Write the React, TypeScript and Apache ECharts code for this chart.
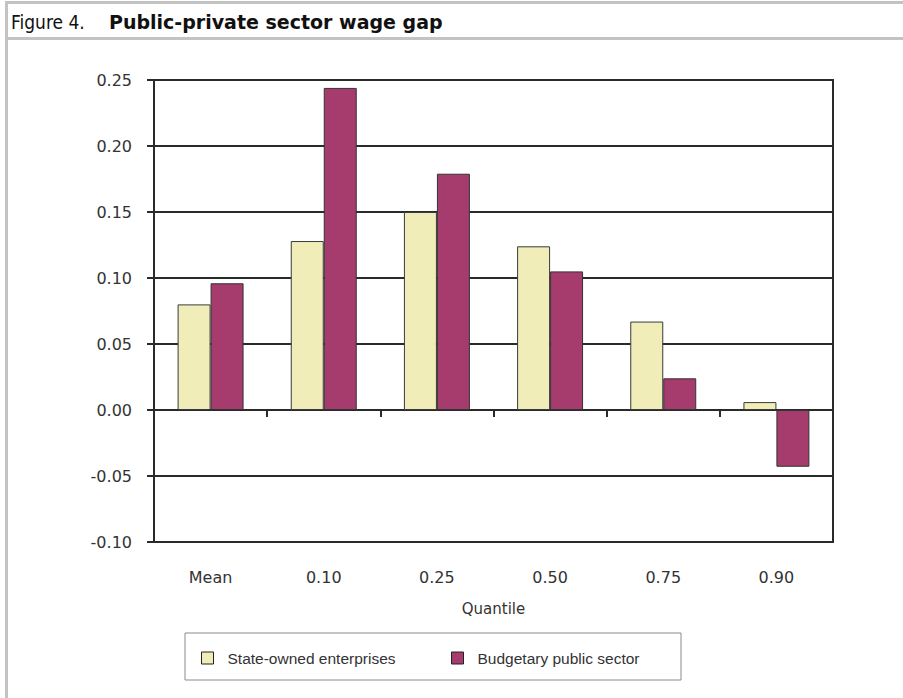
import React, { useEffect, useRef } from "react";
import * as echarts from "echarts";

const categories = ["Mean", "0.10", "0.25", "0.50", "0.75", "0.90"];
const stateOwned = [0.08, 0.128, 0.15, 0.124, 0.067, 0.006];
const budgetary = [0.096, 0.244, 0.179, 0.105, 0.024, -0.043];
const seriesNames = ["State-owned enterprises", "Budgetary public sector"];
const titlePrefix = "Figure 4.";
const titleMain = "Public-private sector wage gap";
const xName = "Quantile";

const SOE_COLOR = "#F0EDB8";
const BUD_COLOR = "#A63B6D";
const FRAME = "#C3C3C3";

export default function App() {
  const ref = useRef<HTMLDivElement>(null);
  useEffect(() => {
    document.body.style.margin = "0";
    const chart = echarts.init(ref.current!, null, { renderer: "svg" });
    const font = "DejaVu Sans";
    const legendText = {
      fontFamily: "Liberation Sans",
      fontSize: 15.5,
      color: "#333",
      padding: [0, 0, 0, 9],
    };
    chart.setOption({
      animation: false,
      backgroundColor: "#ffffff",
      grid: {
        left: 154,
        right: 70,
        top: 80,
        bottom: 156,
        show: true,
        borderColor: "#2a2a2a",
        borderWidth: 2,
        containLabel: false,
      },
      legend: [
        {
          data: [seriesNames[0]],
          left: 201,
          top: 650,
          padding: 0,
          itemWidth: 12,
          itemHeight: 12,
          icon: "rect",
          itemStyle: { borderColor: "#222", borderWidth: 1 },
          textStyle: legendText,
          selectedMode: false,
        },
        {
          data: [seriesNames[1]],
          left: 451,
          top: 650,
          padding: 0,
          itemWidth: 12,
          itemHeight: 12,
          icon: "rect",
          itemStyle: { borderColor: "#222", borderWidth: 1 },
          textStyle: legendText,
          selectedMode: false,
        },
      ],
      xAxis: [
        {
          type: "category",
          data: categories,
          position: "bottom",
          axisLine: { show: false, onZero: false },
          axisTick: { show: false },
          axisLabel: {
            margin: 27,
            fontFamily: font,
            fontSize: 16,
            color: "#333",
          },
          name: xName,
          nameLocation: "middle",
          nameGap: 59,
          nameTextStyle: { fontFamily: font, fontSize: 15, color: "#333" },
        },
        {
          type: "category",
          data: categories,
          position: "bottom",
          axisLine: {
            show: true,
            onZero: true,
            lineStyle: { color: "#2a2a2a", width: 2 },
          },
          axisTick: {
            show: true,
            length: 7,
            interval: 0,
            alignWithLabel: false,
            lineStyle: { color: "#2a2a2a", width: 2 },
          },
          axisLabel: { show: false },
          splitLine: { show: false },
        },
      ],
      yAxis: {
        type: "value",
        min: -0.1,
        max: 0.25,
        interval: 0.05,
        axisLine: { show: true, lineStyle: { color: "#2a2a2a", width: 2 } },
        axisTick: { show: true, length: 7, lineStyle: { color: "#2a2a2a", width: 2 } },
        axisLabel: {
          margin: 22,
          fontFamily: font,
          fontSize: 16,
          color: "#333",
          formatter: (v: number) => v.toFixed(2),
        },
        splitLine: { show: true, lineStyle: { color: "#2a2a2a", width: 2 } },
      },
      series: [
        {
          name: seriesNames[0],
          type: "bar",
          data: stateOwned,
          barGap: "0%",
          barCategoryGap: "41.7%",
          itemStyle: { color: SOE_COLOR, borderColor: "#3a3a3a", borderWidth: 1 },
        },
        {
          name: seriesNames[1],
          type: "bar",
          data: budgetary,
          barGap: "0%",
          barCategoryGap: "41.7%",
          itemStyle: { color: BUD_COLOR, borderColor: "#333", borderWidth: 1 },
        },
      ],
      graphic: [
        { type: "rect", shape: { x: 5, y: 1, width: 898, height: 3 }, style: { fill: FRAME }, silent: true },
        { type: "rect", shape: { x: 5, y: 37, width: 898, height: 3 }, style: { fill: FRAME }, silent: true },
        { type: "rect", shape: { x: 5, y: 1, width: 3, height: 697 }, style: { fill: FRAME }, silent: true },
        {
          type: "rect",
          shape: { x: 185, y: 633, width: 496, height: 47 },
          style: { fill: "none", stroke: "#8a8a8a", lineWidth: 1 },
          silent: true,
          z: -1,
        },
        {
          type: "text",
          x: 11,
          y: 22,
          style: {
            text: titlePrefix,
            fontFamily: "DejaVu Sans Condensed",
            fontSize: 19,
            fill: "#111",
            verticalAlign: "middle",
          },
        },
        {
          type: "text",
          x: 109,
          y: 22,
          style: {
            text: titleMain,
            fontFamily: "DejaVu Sans",
            fontWeight: "bold",
            fontSize: 19,
            fill: "#111",
            verticalAlign: "middle",
          },
        },
      ],
    });
    return () => chart.dispose();
  }, []);
  return <div ref={ref} style={{ width: 903, height: 698 }} />;
}
